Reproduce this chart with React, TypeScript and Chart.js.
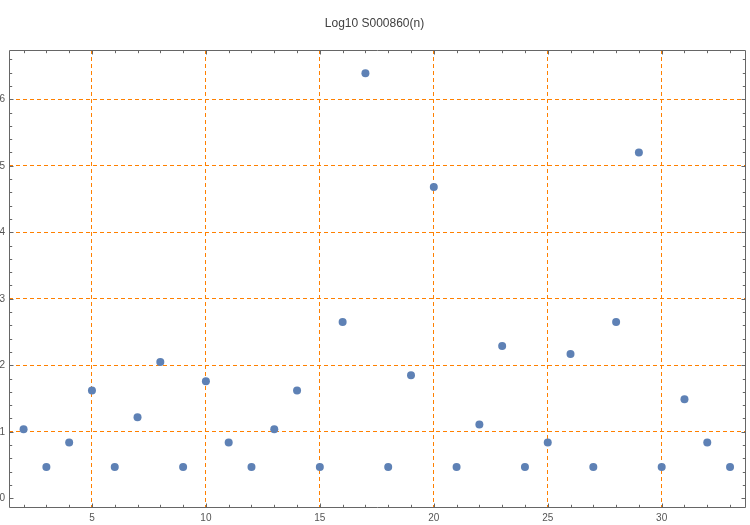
import React, { useEffect, useRef } from 'react';
import { Chart, registerables } from 'chart.js';

Chart.register(...registerables);

const titleText = 'Log10 S000860(n)';
const nValues = [2, 3, 4, 5, 6, 7, 8, 9, 10, 11, 12, 13, 14, 15, 16, 17, 18, 19, 20, 21, 22, 23, 24, 25, 26, 27, 28, 29, 30, 31, 32, 33];
const log10Values = [1.04, 0.47, 0.84, 1.62, 0.47, 1.22, 2.05, 0.47, 1.76, 0.84, 0.47, 1.04, 1.62, 0.47, 2.65, 6.39, 0.47, 1.85, 4.68, 0.47, 1.11, 2.29, 0.47, 0.84, 2.17, 0.47, 2.65, 5.2, 0.47, 1.49, 0.84, 0.47];
const xMajorTicks = [5, 10, 15, 20, 25, 30];
const yMajorTicks = [0, 1, 2, 3, 4, 5, 6];

const X_MIN = 1.36;
const X_MAX = 33.7;
const Y_MIN = -0.146;
const Y_MAX = 6.741;

const FRAME = '#666666';
const ORANGE = 'rgb(255,128,0)';
const POINT = '#5E81B5';
const FONT = "'Liberation Sans', Arial, sans-serif";

const framePlugin = {
  id: 'mmaFrame',
  beforeDatasetsDraw(chart: any) {
    const { ctx, chartArea } = chart;
    const xs = chart.scales.x;
    const ys = chart.scales.y;
    const L = Math.round(chartArea.left) + 0.5;
    const R = Math.round(chartArea.right) - 0.5;
    const T = Math.round(chartArea.top) + 0.5;
    const B = Math.round(chartArea.bottom) - 0.5;
    ctx.save();
    ctx.strokeStyle = FRAME;
    ctx.lineWidth = 1;
    ctx.setLineDash([]);
    ctx.beginPath();
    ctx.moveTo(L, T);
    ctx.lineTo(R, T);
    ctx.lineTo(R, B);
    ctx.lineTo(L, B);
    ctx.closePath();
    ctx.stroke();
    ctx.beginPath();
    for (let v = 2; v <= 33; v++) {
      const p = Math.round(xs.getPixelForValue(v)) + 0.5;
      const len = v % 5 === 0 ? 4 : 2.7;
      ctx.moveTo(p, B);
      ctx.lineTo(p, B - len);
      ctx.moveTo(p, T);
      ctx.lineTo(p, T + len);
    }
    for (let k = 0; k <= 33; k++) {
      const v = k * 0.2;
      const p = Math.round(ys.getPixelForValue(v)) + 0.5;
      const len = k % 5 === 0 ? 4 : 2.7;
      ctx.moveTo(L, p);
      ctx.lineTo(L + len, p);
      ctx.moveTo(R, p);
      ctx.lineTo(R - len, p);
    }
    ctx.stroke();
    ctx.restore();
  },
};

export default function App() {
  const ref = useRef<HTMLCanvasElement | null>(null);
  useEffect(() => {
    if (!ref.current) return;
    const chart = new Chart(ref.current, {
      type: 'scatter',
      data: {
        datasets: [
          {
            label: titleText,
            data: nValues.map((n, i) => ({ x: n, y: log10Values[i] })),
            backgroundColor: POINT,
            borderWidth: 0,
            pointRadius: 4,
            pointHoverRadius: 4,
          },
        ],
      },
      options: {
        animation: false,
        responsive: false,
        layout: { padding: { left: 0, right: 1, top: 0, bottom: 0 } },
        plugins: {
          legend: { display: false },
          tooltip: { enabled: false },
          title: {
            display: true,
            text: titleText,
            color: '#404040',
            font: { family: FONT, size: 12, weight: 'normal' },
            padding: { top: 16, bottom: 19.6 },
          },
        },
        scales: {
          x: {
            type: 'linear',
            min: X_MIN,
            max: X_MAX,
            afterBuildTicks: (s: any) => {
              s.ticks = xMajorTicks.map((v) => ({ value: v }));
            },
            afterFit: (s: any) => {
              s.height = 17;
            },
            grid: { color: ORANGE, lineWidth: 1, drawTicks: false },
            border: { display: false, dash: [4, 3] },
            ticks: {
              color: '#555555',
              font: { family: FONT, size: 10 },
              padding: 4,
              maxRotation: 0,
              autoSkip: false,
            },
          },
          y: {
            type: 'linear',
            min: Y_MIN,
            max: Y_MAX,
            afterBuildTicks: (s: any) => {
              s.ticks = yMajorTicks.map((v) => ({ value: v }));
            },
            afterFit: (s: any) => {
              s.width = 9;
            },
            grid: {
              color: (c: any) => (c.tick && c.tick.value === 0 ? 'rgba(0,0,0,0)' : ORANGE),
              lineWidth: 1,
              drawTicks: false,
            },
            border: { display: false, dash: [4, 3] },
            ticks: {
              color: '#555555',
              font: { family: FONT, size: 10 },
              padding: 4,
              autoSkip: false,
            },
          },
        },
      },
      plugins: [framePlugin],
    });
    return () => chart.destroy();
  }, []);
  return (
    <div style={{ position: 'fixed', left: 0, top: 0, width: 750, height: 525, background: '#fff' }}>
      <canvas ref={ref} width={750} height={525} style={{ display: 'block' }} />
    </div>
  );
}
